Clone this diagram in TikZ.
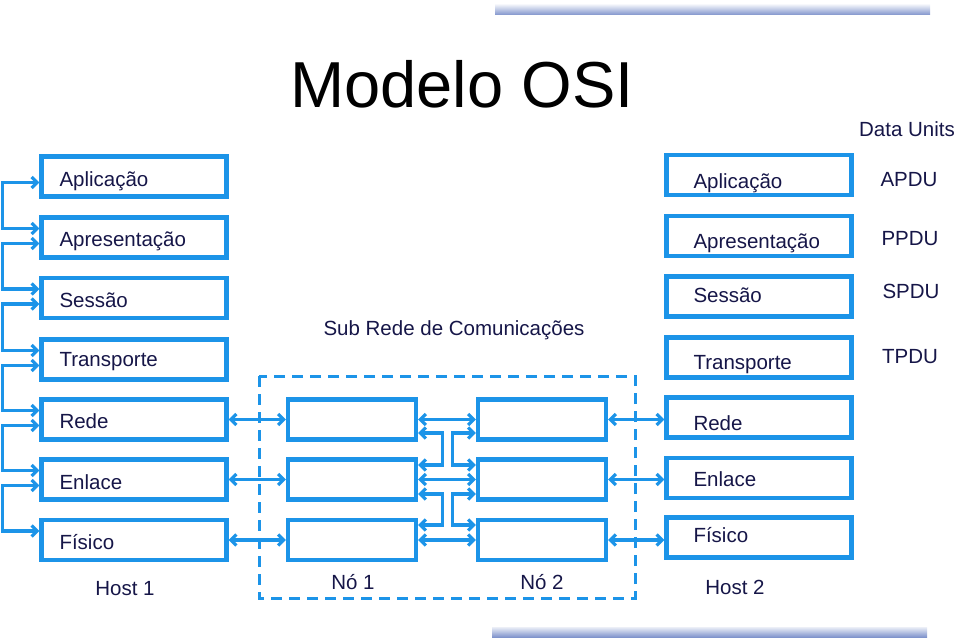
\documentclass[tikz,border=0pt]{standalone}
\usepackage{fontspec}
\setmainfont{Liberation Sans}
\usetikzlibrary{arrows.meta}
\definecolor{osiblue}{RGB}{28,148,232}
\definecolor{ositext}{RGB}{22,22,72}
\definecolor{osibar}{RGB}{128,148,204}

\begin{document}
\begin{tikzpicture}[x=1pt,y=-1pt,
  layer/.style={draw=osiblue,line width=4.4pt,fill=white,minimum height=40pt,
    inner ysep=0pt,align=left,text=ositext,text depth=0pt,
    font=\fontsize{20.5}{24}\selectfont},
  hostl/.style={layer,text width=149pt,inner xsep=18pt,text height=18.7pt},
  hostr/.style={layer,text width=131pt,inner xsep=27pt},
  relay/.style={layer,minimum width=128pt,inner sep=0pt},
  conn/.style={osiblue,line width=3.2pt,
    {Straight Barb[length=5.5pt,width=11pt]}-{Straight Barb[length=5.5pt,width=11pt]}},
  lbl/.style={text=ositext,font=\fontsize{20.5}{24}\selectfont}]
\useasboundingbox (0,0) rectangle (960,642);

% decoration bars
\shade[top color=osibar!15, bottom color=osibar] (495,5) rectangle (930,15);
\shade[top color=osibar!15, bottom color=osibar] (492,627) rectangle (927,637);

\node[font=\fontsize{65}{70}\selectfont] (title) at (462,84) {Modelo OSI};
\node[lbl] (units) at (907,129) {Data Units};

% host 1
\node[hostl,text height=20.7pt] (lapl) at (134,176.5) {Aplicação};
\node[hostl,text height=17.7pt] (lapr) at (134,237.5) {Apresentação};
\node[hostl] (lses) at (134,298) {Sessão};
\node[hostl,text height=13.7pt] (ltra) at (134,359.5) {Transporte};
\node[hostl,text height=17.7pt] (lred) at (134,419.5) {Rede};
\node[hostl,text height=19.7pt] (lenl) at (134,479.5) {Enlace};
\node[hostl] (lfis) at (134,540) {Físico};
\node[lbl] (host1) at (125,589) {Host 1};

% host 2
\node[hostr,text height=26.7pt] (rapl) at (759,175) {Aplicação};
\node[hostr,text height=24.7pt] (rapr) at (759,236) {Apresentação};
\node[hostr,text height=11.7pt] (rses) at (759,296.5) {Sessão};
\node[hostr,text height=24.7pt] (rtra) at (759,357.5) {Transporte};
\node[hostr,text height=26.7pt] (rred) at (759,417.5) {Rede};
\node[hostr,text height=16.7pt] (renl) at (759,478) {Enlace};
\node[hostr,text height=9.7pt] (rfis) at (759,537.5) {Físico};
\node[lbl] (host2) at (735,587) {Host 2};

\node[lbl] (apdu) at (909,180) {APDU};
\node[lbl] (ppdu) at (910,239) {PPDU};
\node[lbl] (spdu) at (911,291) {SPDU};
\node[lbl] (tpdu) at (910,357) {TPDU};

% sub rede
\node[lbl] (subrede) at (454,330) {Sub Rede de Comunicações};
\draw[osiblue,line width=3pt,dash pattern=on 11pt off 7pt] (259,376) rectangle (635,598);
\node[relay] (n1red) at (352,419.5) {};
\node[relay] (n1enl) at (352,479.5) {};
\node[relay] (n1fis) at (352,540) {};
\node[relay] (n2red) at (542,419.5) {};
\node[relay] (n2enl) at (542,479.5) {};
\node[relay] (n2fis) at (542,540) {};
\node[lbl] (no1) at (353,582) {Nó 1};
\node[lbl] (no2) at (542,582) {Nó 2};

% host 1 layer links
\draw[conn] ([yshift=-6pt]lapl.west) -- ++(-37,0) |- ([yshift=9pt]lapr.west);
\draw[conn] ([yshift=-6pt]lapr.west) -- ++(-37,0) |- ([yshift=9pt]lses.west);
\draw[conn] ([yshift=-6pt]lses.west) -- ++(-37,0) |- ([yshift=9pt]ltra.west);
\draw[conn] ([yshift=-6pt]ltra.west) -- ++(-37,0) |- ([yshift=9pt]lred.west);
\draw[conn] ([yshift=-6pt]lred.west) -- ++(-37,0) |- ([yshift=9pt]lenl.west);
\draw[conn] ([yshift=-6pt]lenl.west) -- ++(-37,0) |- ([yshift=9pt]lfis.west);

% peer links
\draw[conn] (lred) -- (n1red);
\draw[conn] (lenl) -- (n1enl);
\draw[conn] (lfis) -- (n1fis);
\draw[conn] (n1red) -- (n2red);
\draw[conn] (n1enl) -- (n2enl);
\draw[conn] (n1fis) -- (n2fis);
\draw[conn] (n2red) -- (n2red -| rred.west);
\draw[conn] (n2enl) -- (n2enl -| renl.west);
\draw[conn] (n2fis) -- (n2fis -| rfis.west);

% node layer links
\draw[conn] ([yshift=-13.5pt]n1red.east) -- ++(24,0) |- ([yshift=14.5pt]n1enl.east);
\draw[conn] ([yshift=-14.5pt]n1enl.east) -- ++(24,0) |- ([yshift=15pt]n1fis.east);
\draw[conn] ([yshift=-13.5pt]n2red.west) -- ++(-23,0) |- ([yshift=14.5pt]n2enl.west);
\draw[conn] ([yshift=-14.5pt]n2enl.west) -- ++(-23,0) |- ([yshift=15pt]n2fis.west);
\end{tikzpicture}
\end{document}
